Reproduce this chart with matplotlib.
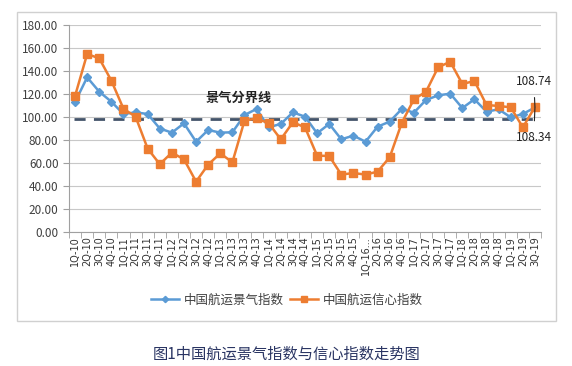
import numpy as np
import matplotlib.pyplot as plt
from matplotlib.patches import Rectangle

plt.rcParams['font.family'] = ['Noto Sans CJK SC', 'DejaVu Sans']

# 季度标签
quarters = ['1Q-10', '2Q-10', '3Q-10', '4Q-10', '1Q-11', '2Q-11', '3Q-11', '4Q-11',
            '1Q-12', '2Q-12', '3Q-12', '4Q-12', '1Q-13', '2Q-13', '3Q-13', '4Q-13',
            '1Q-14', '2Q-14', '3Q-14', '4Q-14', '1Q-15', '2Q-15', '3Q-15', '4Q-15',
            '1Q-16...', '2Q-16', '3Q-16', '4Q-16', '1Q-17', '2Q-17', '3Q-17', '4Q-17',
            '1Q-18', '2Q-18', '3Q-18', '4Q-18', '1Q-19', '2Q-19', '3Q-19']

# 中国航运景气指数
prosperity = [113, 134.5, 122, 113.3, 102.6, 104, 102.6, 90, 86.4, 94.5, 78.5, 88.7,
              86.4, 86.7, 101.7, 107, 91, 94, 104, 100.3, 85.8, 94, 80.6, 83.8,
              78.5, 91.6, 96, 107, 103.8, 114.8, 118.8, 120.3, 107.8, 115.4, 104.6,
              106.7, 99.7, 102.6, 108.34]

# 中国航运信心指数
confidence = [118.3, 154.8, 151, 131.6, 107.2, 100.3, 72.5, 59, 69, 63.2, 43.8, 58.6,
              68.4, 60.6, 96.8, 98.8, 94.5, 80.6, 95.4, 91, 66.4, 66.1, 49.9, 51.3,
              49.9, 52.5, 65, 95, 115.4, 122, 143.2, 148.1, 128.7, 131.3, 110.4,
              109.6, 108.4, 91, 108.74]

boundary = 98.3

W, H = 572, 366
fig = plt.figure(figsize=(W / 100, H / 100), dpi=100)

# 图表外框
fig.patches.append(Rectangle((17 / W, 1 - 321 / H), (556 - 17) / W, (321 - 12) / H,
                             transform=fig.transFigure, fill=False,
                             edgecolor='#d0d0d0', linewidth=1))

ax = fig.add_axes([69 / W, 1 - 232 / H, (541 - 69) / W, (232 - 25) / H])
x = np.arange(len(quarters))

ax.plot(x, prosperity, color='#5b9bd5', marker='D', markersize=4, linewidth=1.8,
        label='中国航运景气指数')
ax.plot(x, confidence, color='#ed7d31', marker='s', markersize=5.5, linewidth=1.8,
        label='中国航运信心指数')
ax.axhline(boundary, xmin=0.01, xmax=0.99, color='#44546a', linestyle=(0, (4, 3)),
           linewidth=2, zorder=1)

ax.set_xlim(-0.5, len(quarters) - 0.5)
ax.set_ylim(0, 180)
ax.set_yticks(np.arange(0, 181, 20))
ax.set_yticklabels(['%.2f' % v for v in np.arange(0, 181, 20)], fontsize=8.5,
                   color='#404040')
ax.yaxis.grid(True, color='#c8c8c8', linewidth=0.8)
ax.set_axisbelow(True)

ax.set_xticks(x)
ax.set_xticklabels(quarters, rotation=90, fontsize=7, color='#333333',
                   family=['DejaVu Sans'])
ax.set_xticks(np.arange(-0.5, len(quarters), 1), minor=True)
ax.tick_params(axis='x', which='major', length=0, pad=3)
ax.tick_params(axis='x', which='minor', length=4, color='#a0a0a0')
ax.tick_params(axis='y', length=4, color='#a0a0a0')

for s in ['top', 'right']:
    ax.spines[s].set_visible(False)
for s in ['left', 'bottom']:
    ax.spines[s].set_color('#a0a0a0')

ax.text(13.5, 117, '景气分界线', fontsize=9.5, fontweight='bold', color='#222222',
        ha='center', va='center')

ax.annotate('108.74', xy=(38, confidence[-1]), xytext=(37.9, 131), fontsize=8.5,
            ha='center', va='center', color='#222222',
            arrowprops=dict(arrowstyle='-', color='#222222', lw=0.8,
                            shrinkA=5, shrinkB=0))
ax.annotate('108.34', xy=(38, prosperity[-1]), xytext=(37.9, 82.6), fontsize=8.5,
            ha='center', va='center', color='#222222',
            arrowprops=dict(arrowstyle='-', color='#222222', lw=0.8,
                            shrinkA=5, shrinkB=0))

fig.legend(loc='center', bbox_to_anchor=(287 / W, 1 - 300 / H), ncol=2,
           frameon=False, fontsize=9, handlelength=2.2, columnspacing=0.5,
           handletextpad=0.4, labelcolor='#404040', markerscale=0.8)

fig.text(287 / W, 1 - 354 / H, '图1中国航运景气指数与信心指数走势图', fontsize=11,
         color='#2a3563', ha='center', va='center')

fig.savefig('out.png', dpi=100)
